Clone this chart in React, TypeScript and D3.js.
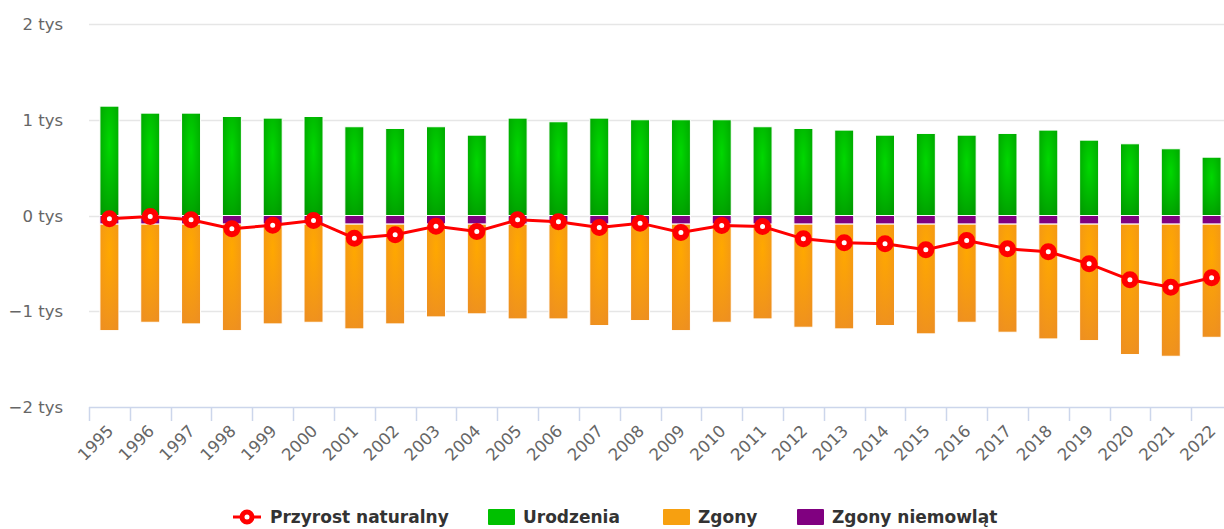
import * as d3 from "d3";
import { useEffect, useRef } from "react";

const years = [
  "1995", "1996", "1997", "1998", "1999", "2000", "2001", "2002", "2003", "2004",
  "2005", "2006", "2007", "2008", "2009", "2010", "2011", "2012", "2013", "2014",
  "2015", "2016", "2017", "2018", "2019", "2020", "2021", "2022",
];

// Urodzenia (births)
const births = [
  1142, 1069, 1069, 1034, 1017, 1034, 927, 909, 927, 839,
  1017, 979, 1017, 1000, 1000, 1000, 927, 909, 892, 839,
  857, 839, 857, 892, 787, 749, 697, 609,
];

// Zgony (deaths, drawn below the infant segment)
const deaths = [
  1112, 1025, 1042, 1112, 1042, 1025, 1094, 1042, 969, 937,
  990, 990, 1059, 1007, 1112, 1025, 990, 1077, 1094, 1059,
  1146, 1025, 1129, 1199, 1216, 1362, 1380, 1182,
];

// Zgony niemowląt (infant deaths)
const infant = [
  90, 90, 90, 90, 90, 90, 90, 90, 90, 90,
  90, 90, 90, 90, 90, 90, 90, 90, 90, 90,
  90, 90, 90, 90, 90, 90, 90, 90,
];

// Przyrost naturalny (natural increase)
const natural = [
  -35, -10, -45, -139, -101, -52, -237, -200, -112, -167,
  -45, -66, -125, -80, -178, -104, -115, -244, -285, -296,
  -358, -261, -348, -379, -505, -672, -749, -651,
];

const yTicks = [-2000, -1000, 0, 1000, 2000];

const legendItems = [
  { label: "Przyrost naturalny", kind: "line", color: "#ff0000" },
  { label: "Urodzenia", kind: "rect", color: "#00c000" },
  { label: "Zgony", kind: "rect", color: "#f7a010" },
  { label: "Zgony niemowląt", kind: "rect", color: "#800080" },
];

const W = 1224;
const H = 529;
const FONT = "'DejaVu Sans', Verdana, sans-serif";

export default function App() {
  const ref = useRef<SVGSVGElement>(null);

  useEffect(() => {
    if (!ref.current) return;
    const el = ref.current;
    d3.select(el).selectAll("*").remove();
    const svg = d3.select(el);

    const left = 89;
    const right = 1232;
    const top = 24;
    const bottom = 407;

    const x = d3.scaleBand().domain(years).range([left, right]).paddingInner(0).paddingOuter(0);
    const y = d3.scaleLinear().domain([-2000, 2000]).range([bottom, top]);
    const barW = 19;
    const cx = (yr: string) => (x(yr) as number) + x.bandwidth() / 2;

    const defs = svg.append("defs");
    const gGreen = defs.append("radialGradient").attr("id", "gGreen").attr("cx", "50%").attr("cy", "35%").attr("r", "75%");
    gGreen.append("stop").attr("offset", "0%").attr("stop-color", "#00d800");
    gGreen.append("stop").attr("offset", "100%").attr("stop-color", "#009a00");
    const gOrange = defs.append("radialGradient").attr("id", "gOrange").attr("cx", "50%").attr("cy", "25%").attr("r", "80%");
    gOrange.append("stop").attr("offset", "0%").attr("stop-color", "#ffa800");
    gOrange.append("stop").attr("offset", "100%").attr("stop-color", "#ee9020");

    // grid
    svg
      .append("g")
      .selectAll("line")
      .data(yTicks.filter(t => t !== -2000))
      .join("line")
      .attr("x1", left)
      .attr("x2", right)
      .attr("y1", d => Math.round(y(d)) + 0.5)
      .attr("y2", d => Math.round(y(d)) + 0.5)
      .attr("stroke", "#e6e6e6")
      .attr("stroke-width", 1.5);

    // y labels
    svg
      .append("g")
      .selectAll("text")
      .data(yTicks)
      .join("text")
      .attr("x", 63)
      .attr("y", d => y(d) + 6)
      .attr("text-anchor", "end")
      .attr("fill", "#666666")
      .attr("font-family", FONT)
      .attr("font-size", 16.5)
      .text(d => (d < 0 ? "\u2212" : "") + Math.abs(d / 1000) + " tys");

    // x axis
    const axis = svg.append("g");
    axis
      .append("line")
      .attr("x1", left)
      .attr("x2", right)
      .attr("y1", bottom + 0.5)
      .attr("y2", bottom + 0.5)
      .attr("stroke", "#ccd6eb")
      .attr("stroke-width", 1.5);
    axis
      .selectAll("line.tick")
      .data(years)
      .join("line")
      .attr("class", "tick")
      .attr("x1", d => Math.round(x(d) as number) + 0.5)
      .attr("x2", d => Math.round(x(d) as number) + 0.5)
      .attr("y1", bottom)
      .attr("y2", bottom + 14)
      .attr("stroke", "#ccd6eb")
      .attr("stroke-width", 1.5);
    axis
      .selectAll("text")
      .data(years)
      .join("text")
      .attr("transform", d => `translate(${cx(d) + 5},${bottom + 25}) rotate(-45)`)
      .attr("text-anchor", "end")
      .attr("fill", "#666666")
      .attr("font-family", FONT)
      .attr("font-size", 16.5)
      .text(d => d);

    // bars
    const bars = svg.append("g");
    years.forEach((yr, i) => {
      const bx = cx(yr) - barW / 2;
      bars
        .append("rect")
        .attr("x", bx)
        .attr("width", barW)
        .attr("y", y(births[i]))
        .attr("height", y(0) - y(births[i]))
        .attr("fill", "url(#gGreen)")
        .attr("stroke", "#ffffff")
        .attr("stroke-width", 1);
      bars
        .append("rect")
        .attr("x", bx)
        .attr("width", barW)
        .attr("y", y(0))
        .attr("height", y(-infant[i]) - y(0))
        .attr("fill", "#800080")
        .attr("stroke", "#ffffff")
        .attr("stroke-width", 1);
      bars
        .append("rect")
        .attr("x", bx)
        .attr("width", barW)
        .attr("y", y(-infant[i]))
        .attr("height", y(-infant[i] - deaths[i]) - y(-infant[i]))
        .attr("fill", "url(#gOrange)")
        .attr("stroke", "#ffffff")
        .attr("stroke-width", 1);
    });

    // natural increase line
    const line = d3
      .line<number>()
      .x((_, i) => cx(years[i]))
      .y(d => y(d));
    svg
      .append("path")
      .attr("d", line(natural))
      .attr("fill", "none")
      .attr("stroke", "#ff0000")
      .attr("stroke-width", 3);
    svg
      .append("g")
      .selectAll("circle")
      .data(natural)
      .join("circle")
      .attr("cx", (_, i) => cx(years[i]))
      .attr("cy", d => y(d))
      .attr("r", 5.5)
      .attr("fill", "#ffffff")
      .attr("stroke", "#ff0000")
      .attr("stroke-width", 6);

    // legend
    const legendX = [233, 488, 663, 797];
    const ly = 517;
    const legend = svg.append("g");
    legendItems.forEach((d, i) => {
      const g = legend.append("g").attr("transform", `translate(${legendX[i]},${ly})`);
      if (d.kind === "line") {
        g.append("line").attr("x1", 0).attr("x2", 28).attr("y1", 0).attr("y2", 0).attr("stroke", d.color).attr("stroke-width", 3);
        g.append("circle").attr("cx", 14).attr("cy", 0).attr("r", 5).attr("fill", "#fff").attr("stroke", d.color).attr("stroke-width", 5);
        g.append("text")
          .attr("x", 37)
          .attr("y", 6)
          .attr("fill", "#333333")
          .attr("font-family", FONT)
          .attr("font-weight", "bold")
          .attr("font-size", 17)
          .text(d.label);
      } else {
        g.append("rect").attr("x", 0).attr("y", -8).attr("width", 27).attr("height", 16).attr("rx", 1).attr("fill", d.color);
        g.append("text")
          .attr("x", 35)
          .attr("y", 6)
          .attr("fill", "#333333")
          .attr("font-family", FONT)
          .attr("font-weight", "bold")
          .attr("font-size", 17)
          .text(d.label);
      }
    });
  }, []);

  return (
    <div style={{ position: "absolute", left: 0, top: 0, width: W, height: H, background: "#fff" }}>
      <svg ref={ref} width={W} height={H} style={{ display: "block" }} />
    </div>
  );
}
